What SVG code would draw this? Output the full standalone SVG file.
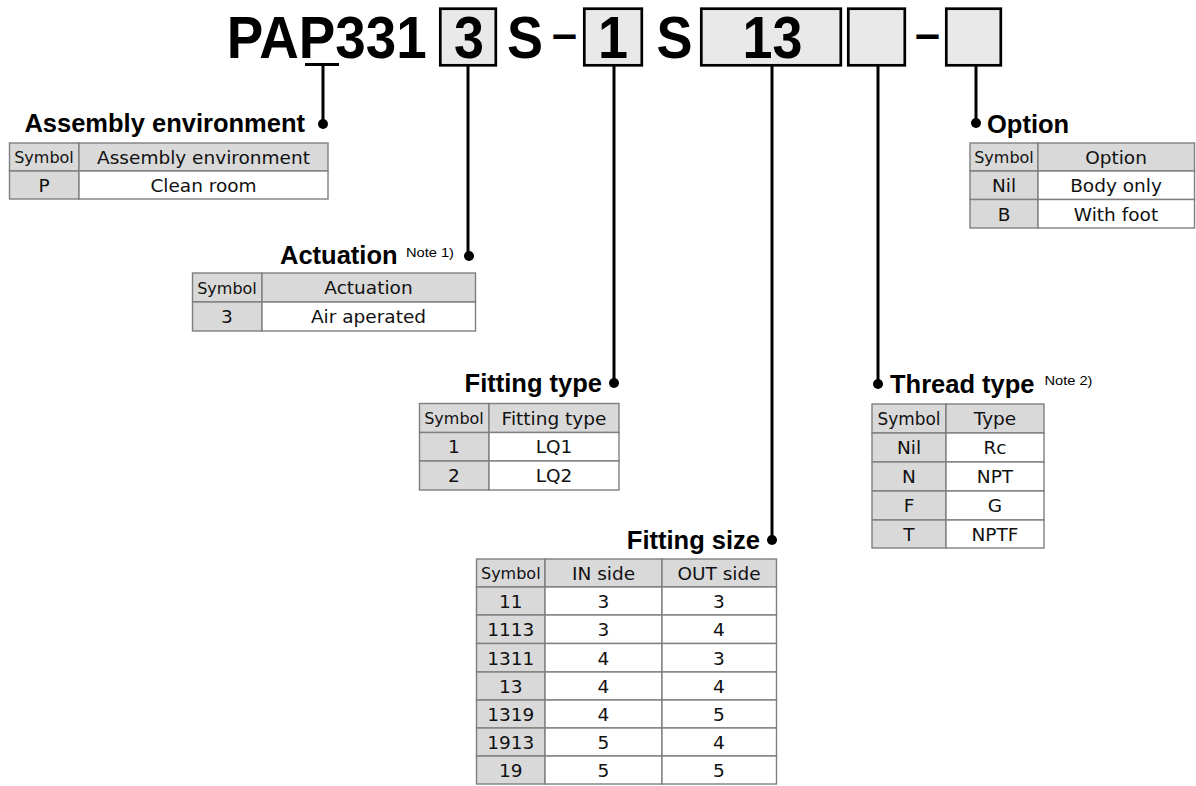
<svg xmlns="http://www.w3.org/2000/svg" width="1196" height="786" viewBox="0 0 1196 786">
<style>
.code{font-family:"Liberation Sans",Arial,sans-serif;font-weight:bold;font-size:60px;fill:#000}
.dash{font-family:"Liberation Sans",Arial,sans-serif;font-weight:bold;font-size:44px;fill:#000}
.box{fill:#e9e9e9;stroke:#000;stroke-width:2.7}
.conn{stroke:#000;stroke-width:3;fill:none}
.dot{fill:#000}
.head{font-family:"Liberation Sans",Arial,sans-serif;font-weight:bold;font-size:25.5px;fill:#000}
.note{font-family:"Liberation Sans",Arial,sans-serif;font-size:13px;fill:#000}
.g{fill:#d9d9d9;stroke:#7f7f7f;stroke-width:1.4}
.w{fill:#fff;stroke:#7f7f7f;stroke-width:1.4}
.t{font-family:"DejaVu Sans",Verdana,sans-serif;font-size:18.5px;fill:#111;text-anchor:middle}
.s{font-family:"DejaVu Sans",Verdana,sans-serif;font-size:16px;fill:#111;text-anchor:middle}
</style>
<rect width="1196" height="786" fill="#fff"/>

<g id="code">
<text class="code" x="226.7" y="58.3" textLength="200" lengthAdjust="spacingAndGlyphs">PAP331</text>
<rect class="box" x="440.3" y="8.7" width="55.5" height="56.6"/>
<text class="code" x="469" y="58.3" text-anchor="middle" textLength="30" lengthAdjust="spacingAndGlyphs">3</text>
<text class="code" x="525" y="58.3" text-anchor="middle" textLength="36" lengthAdjust="spacingAndGlyphs">S</text>
<text class="dash" x="552" y="49" textLength="25" lengthAdjust="spacingAndGlyphs">–</text>
<rect class="box" x="584.3" y="8.7" width="57.5" height="56.6"/>
<text class="code" x="613" y="58.3" text-anchor="middle" textLength="30" lengthAdjust="spacingAndGlyphs">1</text>
<text class="code" x="674.5" y="58.3" text-anchor="middle" textLength="36" lengthAdjust="spacingAndGlyphs">S</text>
<rect class="box" x="701.3" y="8.7" width="139.5" height="56.6"/>
<text class="code" x="772.5" y="58.3" text-anchor="middle" textLength="60" lengthAdjust="spacingAndGlyphs">13</text>
<rect class="box" x="848.3" y="8.7" width="56.5" height="56.6"/>
<text class="dash" x="915" y="49" textLength="25" lengthAdjust="spacingAndGlyphs">–</text>
<rect class="box" x="946.3" y="8.7" width="54.5" height="56.6"/>
</g>

<g id="connectors">
<line class="conn" x1="305" y1="64.5" x2="339" y2="64.5"/>
<line class="conn" x1="323" y1="64.5" x2="323" y2="124"/>
<circle class="dot" cx="323" cy="124" r="5"/>
<line class="conn" x1="468" y1="66" x2="468" y2="256"/>
<circle class="dot" cx="469" cy="256" r="5"/>
<line class="conn" x1="614" y1="66" x2="614" y2="383"/>
<circle class="dot" cx="614" cy="383" r="5"/>
<line class="conn" x1="772" y1="66" x2="772" y2="540"/>
<circle class="dot" cx="772" cy="540" r="5"/>
<line class="conn" x1="878" y1="66" x2="878" y2="384"/>
<circle class="dot" cx="878" cy="384" r="5"/>
<line class="conn" x1="976" y1="66" x2="976" y2="123"/>
<circle class="dot" cx="976" cy="123" r="5"/>
</g>

<g id="assembly">
<text class="head" x="305" y="132" text-anchor="end">Assembly environment</text>
<rect class="g" x="9.5" y="143" width="69.5" height="28"/>
<rect class="g" x="79" y="143" width="249" height="28"/>
<rect class="g" x="9.5" y="171" width="69.5" height="28"/>
<rect class="w" x="79" y="171" width="249" height="28"/>
<text class="s" x="44" y="163">Symbol</text>
<text class="t" x="203.5" y="163.5">Assembly environment</text>
<text class="t" x="44" y="191.5">P</text>
<text class="t" x="203.5" y="191.5">Clean room</text>
</g>

<g id="actuation">
<text class="head" x="280" y="264">Actuation</text>
<text class="note" x="406" y="256.5" textLength="48" lengthAdjust="spacingAndGlyphs">Note 1)</text>
<rect class="g" x="192.5" y="273" width="69.5" height="29"/>
<rect class="g" x="262" y="273" width="213.5" height="29"/>
<rect class="g" x="192.5" y="302" width="69.5" height="29"/>
<rect class="w" x="262" y="302" width="213.5" height="29"/>
<text class="s" x="227" y="293.5">Symbol</text>
<text class="t" x="368.5" y="294">Actuation</text>
<text class="t" x="227" y="323">3</text>
<text class="t" x="368.5" y="323">Air aperated</text>
</g>

<g id="fitting-type">
<text class="head" x="602" y="392" text-anchor="end">Fitting type</text>
<rect class="g" x="419.5" y="403.5" width="69.5" height="29"/>
<rect class="g" x="489" y="403.5" width="130" height="29"/>
<rect class="g" x="419.5" y="432.5" width="69.5" height="28.5"/>
<rect class="w" x="489" y="432.5" width="130" height="28.5"/>
<rect class="g" x="419.5" y="461" width="69.5" height="29"/>
<rect class="w" x="489" y="461" width="130" height="29"/>
<text class="s" x="454" y="424">Symbol</text>
<text class="t" x="554" y="424.5">Fitting type</text>
<text class="t" x="454" y="453">1</text>
<text class="t" x="554" y="453">LQ1</text>
<text class="t" x="454" y="482">2</text>
<text class="t" x="554" y="482">LQ2</text>
</g>

<g id="fitting-size">
<text class="head" x="760" y="548.5" text-anchor="end">Fitting size</text>
<rect class="g" x="476.5" y="559" width="68.5" height="28"/>
<rect class="g" x="545" y="559" width="117" height="28"/>
<rect class="g" x="662" y="559" width="114.5" height="28"/>
<g>
<rect class="g" x="476.5" y="587" width="68.5" height="28"/><rect class="w" x="545" y="587" width="117" height="28"/><rect class="w" x="662" y="587" width="114.5" height="28"/>
<rect class="g" x="476.5" y="615" width="68.5" height="28.5"/><rect class="w" x="545" y="615" width="117" height="28.5"/><rect class="w" x="662" y="615" width="114.5" height="28.5"/>
<rect class="g" x="476.5" y="643.5" width="68.5" height="28.5"/><rect class="w" x="545" y="643.5" width="117" height="28.5"/><rect class="w" x="662" y="643.5" width="114.5" height="28.5"/>
<rect class="g" x="476.5" y="672" width="68.5" height="28"/><rect class="w" x="545" y="672" width="117" height="28"/><rect class="w" x="662" y="672" width="114.5" height="28"/>
<rect class="g" x="476.5" y="700" width="68.5" height="28"/><rect class="w" x="545" y="700" width="117" height="28"/><rect class="w" x="662" y="700" width="114.5" height="28"/>
<rect class="g" x="476.5" y="728" width="68.5" height="28"/><rect class="w" x="545" y="728" width="117" height="28"/><rect class="w" x="662" y="728" width="114.5" height="28"/>
<rect class="g" x="476.5" y="756" width="68.5" height="28"/><rect class="w" x="545" y="756" width="117" height="28"/><rect class="w" x="662" y="756" width="114.5" height="28"/>
</g>
<text class="s" x="510.8" y="579">Symbol</text>
<text class="t" x="603.5" y="579.5">IN side</text>
<text class="t" x="719" y="579.5">OUT side</text>
<text class="t" x="510.8" y="607.5">11</text><text class="t" x="603.5" y="607.5">3</text><text class="t" x="719" y="607.5">3</text>
<text class="t" x="510.8" y="636">1113</text><text class="t" x="603.5" y="636">3</text><text class="t" x="719" y="636">4</text>
<text class="t" x="510.8" y="664.5">1311</text><text class="t" x="603.5" y="664.5">4</text><text class="t" x="719" y="664.5">3</text>
<text class="t" x="510.8" y="692.5">13</text><text class="t" x="603.5" y="692.5">4</text><text class="t" x="719" y="692.5">4</text>
<text class="t" x="510.8" y="720.5">1319</text><text class="t" x="603.5" y="720.5">4</text><text class="t" x="719" y="720.5">5</text>
<text class="t" x="510.8" y="748.5">1913</text><text class="t" x="603.5" y="748.5">5</text><text class="t" x="719" y="748.5">4</text>
<text class="t" x="510.8" y="776.5">19</text><text class="t" x="603.5" y="776.5">5</text><text class="t" x="719" y="776.5">5</text>
</g>

<g id="thread-type">
<text class="head" x="890" y="392.5">Thread type</text>
<text class="note" x="1044.5" y="384.5" textLength="48" lengthAdjust="spacingAndGlyphs">Note 2)</text>
<rect class="g" x="872" y="404" width="74" height="29"/><rect class="g" x="946" y="404" width="98" height="29"/>
<rect class="g" x="872" y="433" width="74" height="29"/><rect class="w" x="946" y="433" width="98" height="29"/>
<rect class="g" x="872" y="462" width="74" height="29"/><rect class="w" x="946" y="462" width="98" height="29"/>
<rect class="g" x="872" y="491" width="74" height="29"/><rect class="w" x="946" y="491" width="98" height="29"/>
<rect class="g" x="872" y="520" width="74" height="28"/><rect class="w" x="946" y="520" width="98" height="28"/>
<text class="t" x="909" y="425" textLength="63" lengthAdjust="spacingAndGlyphs">Symbol</text>
<text class="t" x="995" y="425">Type</text>
<text class="t" x="909" y="454">Nil</text><text class="t" x="995" y="454">Rc</text>
<text class="t" x="909" y="483">N</text><text class="t" x="995" y="483">NPT</text>
<text class="t" x="909" y="512">F</text><text class="t" x="995" y="512">G</text>
<text class="t" x="909" y="540.5">T</text><text class="t" x="995" y="540.5">NPTF</text>
</g>

<g id="option">
<text class="head" x="987" y="132.5">Option</text>
<rect class="g" x="970" y="143" width="68" height="28"/><rect class="g" x="1038" y="143" width="156.5" height="28"/>
<rect class="g" x="970" y="171" width="68" height="28.5"/><rect class="w" x="1038" y="171" width="156.5" height="28.5"/>
<rect class="g" x="970" y="199.5" width="68" height="28.5"/><rect class="w" x="1038" y="199.5" width="156.5" height="28.5"/>
<text class="s" x="1004" y="163">Symbol</text>
<text class="t" x="1116" y="163.5">Option</text>
<text class="t" x="1004" y="192">Nil</text><text class="t" x="1116" y="192">Body only</text>
<text class="t" x="1004" y="220.5">B</text><text class="t" x="1116" y="220.5">With foot</text>
</g>
</svg>
